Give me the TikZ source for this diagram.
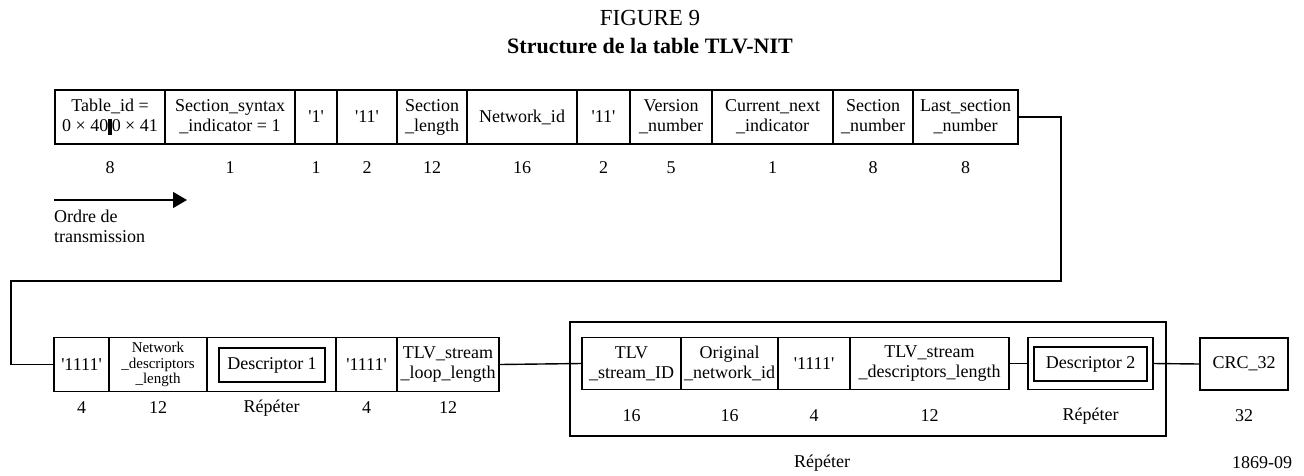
\documentclass[tikz,border=0pt]{standalone}
\usepackage{fontspec}
\setmainfont{Liberation Serif}
\usepackage{tikz}
\usetikzlibrary{arrows.meta,calc}

\tikzstyle{tsText} = [
    text=black,
    font=\fontsize{18}{20}\selectfont
]
\tikzstyle{tsSmall} = [
    text=black,
    font=\fontsize{15}{15.5}\selectfont
]
\tikzstyle{tsField} = [
    rectangle,
    tsText,
    align=center,
    draw=black,
    line width=1.4pt,
    inner sep=0pt,
    minimum height=54]
\tikzstyle{tsLowField} = [
    tsField,
    minimum height=52]
\tikzstyle{tsInner} = [
    tsField,
    minimum height=34]
\tikzstyle{tsNum} = [
    tsText,
    inner sep=0pt]
\tikzstyle{tsLine} = [
    draw=black,
    line width=1.4pt]

\begin{document}
\begin{tikzpicture}[x=1pt, y=-1pt]

    \useasboundingbox (0,0) rectangle (1304,475);

    \node[tsNum, font=\fontsize{23}{26}\selectfont] (fig) at (650,18) {FIGURE 9};
    \node[tsNum, font=\fontsize{22}{26}\selectfont\bfseries] (title) at (650,46)
        {Structure de la table TLV-NIT};

    % first row of fields
    \node[tsField, minimum width=110] (tabid) at (110,117)
        {Table\_id =\\0 × 40\rule[-3pt]{3.5pt}{16pt}0 × 41};
    \node[tsField, minimum width=130] (synind) at (230,117)
        {Section\_syntax\\\_indicator = 1};
    \node[tsField, minimum width=42] (bitone) at (316,117) {\textquotesingle 1\textquotesingle};
    \node[tsField, minimum width=60] (bittwo) at (367,117) {\textquotesingle 11\textquotesingle};
    \node[tsField, minimum width=70] (seclen) at (432,117) {Section\\\_length};
    \node[tsField, minimum width=110] (netid) at (522,117) {Network\_id};
    \node[tsField, minimum width=53] (bittwob) at (603.5,117) {\textquotesingle 11\textquotesingle};
    \node[tsField, minimum width=82] (vernum) at (671,117) {Version\\\_number};
    \node[tsField, minimum width=121] (curnext) at (772.5,117)
        {Current\_next\\\_indicator};
    \node[tsField, minimum width=80] (secnum) at (873,117) {Section\\\_number};
    \node[tsField, minimum width=105] (lastsec) at (965.5,117)
        {Last\_section\\\_number};

    \node[tsNum] (n-tabid) at (110,168) {8};
    \node[tsNum] (n-synind) at (230,168) {1};
    \node[tsNum] (n-bitone) at (316,168) {1};
    \node[tsNum] (n-bittwo) at (367,168) {2};
    \node[tsNum] (n-seclen) at (432,168) {12};
    \node[tsNum] (n-netid) at (522,168) {16};
    \node[tsNum] (n-bittwob) at (603.5,168) {2};
    \node[tsNum] (n-vernum) at (671,168) {5};
    \node[tsNum] (n-curnext) at (772.5,168) {1};
    \node[tsNum] (n-secnum) at (873,168) {8};
    \node[tsNum] (n-lastsec) at (965.5,168) {8};

    % transmission order
    \coordinate (arrS) at (54,200);
    \coordinate (arrE) at (187,200);
    \draw[tsLine, -{Triangle[length=14pt,width=16pt]}] (arrS) -- (arrE);
    \node[tsText, align=left, anchor=north west, inner sep=0pt] (order) at (54,210)
        {Ordre de\\transmission};

    % second row of fields
    \node[tsField, minimum width=55] (onesA) at (81.5,364.5) {\textquotesingle 1111\textquotesingle};
    \node[tsField, tsSmall, minimum width=98] (netdesc) at (158,364.5)
        {Network\\\_descriptors\\\_length};
    \node[tsField, minimum width=129] (descAcell) at (271.5,364.5) {};
    \node[tsInner, minimum width=106] (descA) at (272,365) {Descriptor 1};
    \node[tsField, minimum width=61] (onesB) at (366.5,364.5) {\textquotesingle 1111\textquotesingle};
    \node[tsField, minimum width=102] (looplen) at (448,364.5)
        {TLV\_stream\\\_loop\_length};

    \node[tsNum] (n-onesA) at (81.5,408) {4};
    \node[tsNum] (n-netdesc) at (158,408) {12};
    \node[tsNum] (n-descA) at (271.5,408) {Répéter};
    \node[tsNum] (n-onesB) at (366.5,408) {4};
    \node[tsNum] (n-looplen) at (448,408) {12};

    % repeated stream loop
    \node[tsField, minimum width=596, minimum height=114] (loop) at (868,379) {};
    \node[tsLowField, minimum width=99] (streamid) at (631.5,363.5)
        {TLV\\\_stream\_ID};
    \node[tsLowField, minimum width=97] (orignet) at (729.5,363.5)
        {Original\\\_network\_id};
    \node[tsLowField, minimum width=72] (onesC) at (814,363.5) {\textquotesingle 1111\textquotesingle};
    \node[tsLowField, minimum width=159] (streamdesc) at (929.5,363.5)
        {TLV\_stream\\\_descriptors\_length};
    \node[tsLowField, minimum width=125] (descBcell) at (1090.5,363.5) {};
    \node[tsInner, minimum width=113] (descB) at (1090.5,364) {Descriptor 2};

    \node[tsNum] (n-streamid) at (631.5,416) {16};
    \node[tsNum] (n-orignet) at (729.5,416) {16};
    \node[tsNum] (n-onesC) at (814,416) {4};
    \node[tsNum] (n-streamdesc) at (929.5,416) {12};
    \node[tsNum] (n-descB) at (1090.5,416) {Répéter};
    \node[tsNum] (n-loop) at (822,463) {Répéter};

    \node[tsLowField, minimum width=88] (crc) at (1244,364) {CRC\_32};
    \node[tsNum] (n-crc) at (1244,416) {32};

    \node[tsNum] (figno) at (1262,463) {1869-09};

    % connectors
    \coordinate (turnR) at (1061,281);
    \coordinate (turnL) at (11,281);
    \draw[tsLine] (lastsec.east) -| (turnR) -- (turnL) |- (onesA.west);
    \draw[tsLine] (looplen.east) -- (streamid.west);
    \draw[tsLine] (streamdesc.east) -- (descBcell.west);
    \draw[tsLine] (descBcell.east) -- (crc.west);

\end{tikzpicture}
\end{document}
